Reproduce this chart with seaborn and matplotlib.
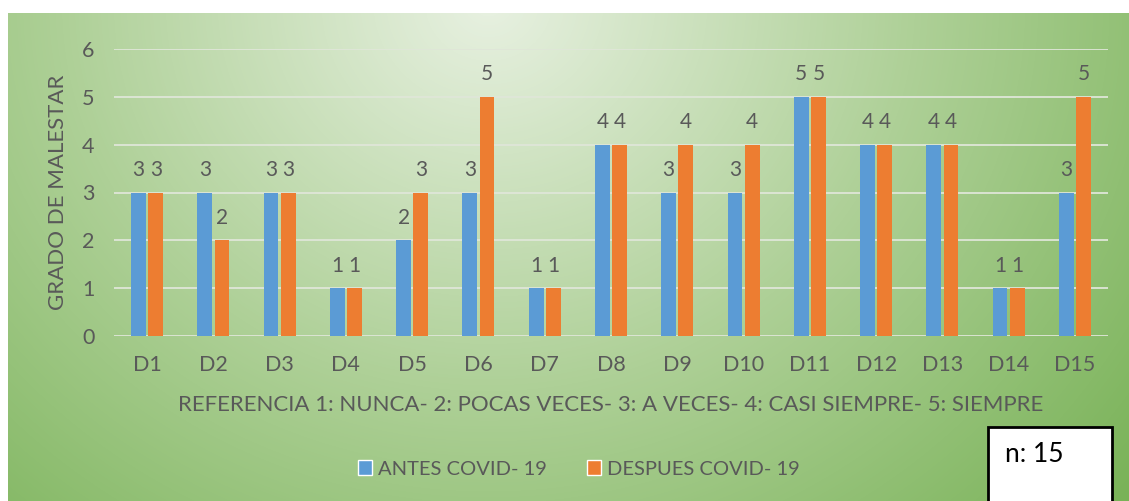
import numpy as np
import pandas as pd
import matplotlib
import matplotlib.pyplot as plt
import seaborn as sns
from matplotlib.colors import LinearSegmentedColormap
from matplotlib.patches import Patch, Rectangle

matplotlib.use('Agg')

# Datos
items = ['D1', 'D2', 'D3', 'D4', 'D5', 'D6', 'D7', 'D8', 'D9', 'D10',
         'D11', 'D12', 'D13', 'D14', 'D15']
antes = [3, 3, 3, 1, 2, 3, 1, 4, 3, 3, 5, 4, 4, 1, 3]
despues = [3, 2, 3, 1, 3, 5, 1, 4, 4, 4, 5, 4, 4, 1, 5]
series = ['ANTES COVID- 19', 'DESPUES COVID- 19']
colores = ['#5b9bd5', '#ed7d31']
y_ticks = [0, 1, 2, 3, 4, 5, 6]

df = pd.DataFrame({
    'item': items * 2,
    'valor': antes + despues,
    'serie': [series[0]] * len(items) + [series[1]] * len(items),
})

sns.set_theme(style="white")
plt.rcParams['font.family'] = ['Lato', 'DejaVu Sans']
gris = '#595959'

fig = plt.figure(figsize=(11.29, 5.01), dpi=100)
fig.patch.set_facecolor('white')

# Fondo con degradado radial verde
bg = fig.add_axes([8 / 1129, 0, 1 - 8 / 1129, 1 - 13 / 501], zorder=-10)
W, H = 1121, 488
xx, yy = np.meshgrid(np.arange(W), np.arange(H))
d = np.sqrt(((xx - 480) / 1.1) ** 2 + (yy + 10) ** 2)
d = d / d.max()
cmap = LinearSegmentedColormap.from_list('verde', ['#e6f0df', '#aed097', '#79b257'])
bg.imshow(d, cmap=cmap, aspect='auto', extent=[0, 1, 0, 1], origin='upper')
bg.axis('off')

ax = fig.add_axes([114 / 1129, 1 - 336 / 501, (1108 - 114) / 1129, (336 - 49) / 501])
ax.patch.set_alpha(0)
sns.barplot(data=df, x='item', y='valor', hue='serie', palette=colores,
            saturation=1, linewidth=0, width=0.52, gap=0.14, ax=ax,
            legend=False, zorder=3)

for cont in ax.containers:
    ax.bar_label(cont, padding=9, fontsize=15, color=gris)

ax.set_ylim(0, 6)
ax.set_xlim(-0.5, 14.5)
ax.set_yticks(y_ticks)
ax.yaxis.grid(True, color='#dfe6d8', lw=1.3, zorder=0)
ax.set_axisbelow(True)
for s in ax.spines.values():
    s.set_visible(False)
ax.tick_params(axis='both', length=0, labelsize=15.5, labelcolor=gris)
ax.tick_params(axis='x', pad=14)
ax.tick_params(axis='y', pad=14)
ax.set_ylabel('')
ax.set_xlabel('REFERENCIA 1: NUNCA- 2: POCAS VECES- 3: A VECES- 4: CASI SIEMPRE- 5: SIEMPRE',
              fontsize=16, color=gris, labelpad=14)
fig.text(58 / 1129, 1 - 192 / 501, 'GRADO DE MALESTAR', rotation=90, fontsize=16,
         color=gris, ha='center', va='center')

handles = [Patch(facecolor=c) for c in colores]
fig.legend(handles, series, loc='center', bbox_to_anchor=(579 / 1129, 1 - 469 / 501),
           ncol=2, frameon=False, fontsize=14.5, labelcolor=gris,
           handlelength=0.7, handleheight=0.7, handletextpad=0.3, columnspacing=2.0)

# Recuadro n: 15
fig.patches.append(Rectangle((988 / 1129, -0.02), (1112 - 988) / 1129, (501 - 427) / 501 + 0.02,
                             transform=fig.transFigure, facecolor='white',
                             edgecolor='black', lw=2, zorder=20))
fig.text(1005 / 1129, 1 - 455 / 501, 'n: 15', fontsize=19, color='black',
         va='center', ha='left', zorder=21)

plt.savefig('out.png', dpi=100)
